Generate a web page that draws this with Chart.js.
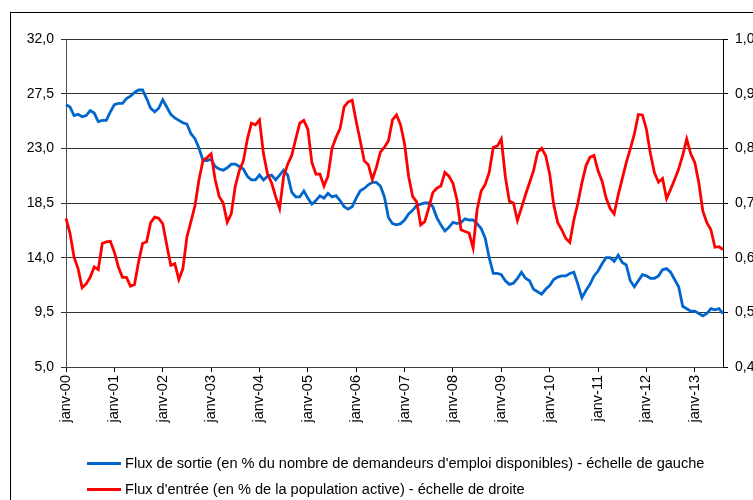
<!DOCTYPE html>
<html>
<head>
<meta charset="utf-8">
<script src="https://cdn.jsdelivr.net/npm/chart.js@4.4.1/dist/chart.umd.min.js"></script>
<style>
  body { margin: 0; width: 753px; height: 500px; overflow: hidden; background: #fff; position: relative; }
  #frame { position: absolute; left: 10px; top: 12px; width: 800px; height: 600px; border: 1px solid #000; }
  #c { position: absolute; left: 0; top: 0; }
  .leg { position: absolute; left: 87px; height: 18px; }
  .leg span.swatch { position: absolute; left: 0; top: 8px; width: 34px; height: 3px; }
  .leg span.txt { position: absolute; left: 38px; top: 0; line-height: 18px; white-space: nowrap; color: #000;
    font: 15.5px "Liberation Sans", Arial, sans-serif; transform: scaleX(0.94); transform-origin: left center; }
</style>
</head>
<body>
<div id="frame"></div>
<canvas id="c" width="800" height="500"></canvas>
<div class="leg" style="top:454px"><span class="swatch" style="background:#0066CC"></span><span class="txt" id="l1"></span></div>
<div class="leg" style="top:480px"><span class="swatch" style="background:#FF0000"></span><span class="txt" id="l2"></span></div>
<script>
// mois et années de l'axe des abscisses
const mois = ['janv', 'févr', 'mars', 'avr', 'mai', 'juin', 'juil', 'août', 'sept', 'oct', 'nov', 'déc'];
const annees = ['00', '01', '02', '03', '04', '05', '06', '07', '08', '09', '10', '11', '12', '13'];
const nbMois = 164; // janv-00 -> août-13

const labelSortie = "Flux de sortie (en % du nombre de demandeurs d'emploi disponibles) - échelle de gauche";
const labelEntree = "Flux d'entrée (en % de la population active) - échelle de droite";

// Flux de sortie (échelle de gauche)
const sortie = [
  26.6, 26.4, 25.7, 25.8, 25.6, 25.7, 26.1, 25.9, 25.2, 25.3,
  25.3, 26.0, 26.6, 26.7, 26.7, 27.1, 27.3, 27.6, 27.8, 27.8,
  27.1, 26.3, 26.0, 26.3, 27.0, 26.4, 25.8, 25.5, 25.3, 25.1,
  25.0, 24.2, 23.8, 23.0, 22.0, 22.0, 22.1, 21.5, 21.3, 21.2,
  21.4, 21.7, 21.7, 21.5, 21.3, 20.7, 20.4, 20.4, 20.8, 20.4,
  20.7, 20.8, 20.4, 20.8, 21.2, 20.8, 19.4, 19.0, 19.0, 19.5,
  18.9, 18.4, 18.7, 19.1, 18.9, 19.3, 19.0, 19.1, 18.7, 18.2,
  18.0, 18.2, 18.9, 19.5, 19.7, 20.0, 20.2, 20.2, 19.9, 19.0,
  17.3, 16.8, 16.7, 16.8, 17.1, 17.6, 17.9, 18.3, 18.4, 18.5,
  18.5, 18.2, 17.3, 16.7, 16.2, 16.5, 16.9, 16.8, 16.9, 17.2,
  17.1, 17.1, 16.8, 16.4, 15.6, 14.0, 12.7, 12.7, 12.6, 12.1,
  11.8, 11.9, 12.3, 12.8, 12.3, 12.1, 11.4, 11.2, 11.0, 11.4,
  11.7, 12.2, 12.4, 12.5, 12.5, 12.7, 12.8, 11.8, 10.7, 11.3,
  11.8, 12.5, 12.9, 13.5, 14.0, 14.0, 13.7, 14.2, 13.6, 13.4,
  12.1, 11.6, 12.1, 12.6, 12.5, 12.3, 12.3, 12.5, 13.0, 13.1,
  12.8, 12.2, 11.6, 10.0, 9.8, 9.6, 9.6, 9.4, 9.2, 9.4,
  9.8, 9.7, 9.8, 9.4
];

// Flux d'entrée (échelle de droite)
const entree = [
  0.672, 0.644, 0.601, 0.580, 0.545, 0.552, 0.564, 0.583, 0.578, 0.626,
  0.629, 0.630, 0.610, 0.583, 0.564, 0.564, 0.548, 0.551, 0.592, 0.626,
  0.629, 0.664, 0.674, 0.672, 0.662, 0.623, 0.586, 0.589, 0.560, 0.580,
  0.638, 0.666, 0.695, 0.743, 0.778, 0.783, 0.790, 0.743, 0.712, 0.700,
  0.665, 0.680, 0.731, 0.759, 0.777, 0.817, 0.846, 0.843, 0.852, 0.790,
  0.753, 0.737, 0.712, 0.690, 0.749, 0.771, 0.787, 0.817, 0.846, 0.851,
  0.835, 0.774, 0.753, 0.753, 0.731, 0.749, 0.800, 0.820, 0.836, 0.876,
  0.885, 0.888, 0.849, 0.814, 0.777, 0.770, 0.743, 0.765, 0.793, 0.802,
  0.814, 0.852, 0.861, 0.843, 0.808, 0.749, 0.712, 0.702, 0.660, 0.666,
  0.691, 0.719, 0.727, 0.731, 0.756, 0.749, 0.736, 0.706, 0.651, 0.648,
  0.645, 0.618, 0.688, 0.722, 0.734, 0.756, 0.802, 0.804, 0.817, 0.748,
  0.703, 0.700, 0.668, 0.691, 0.715, 0.737, 0.759, 0.793, 0.800, 0.787,
  0.753, 0.697, 0.664, 0.651, 0.635, 0.628, 0.669, 0.700, 0.737, 0.768,
  0.784, 0.787, 0.759, 0.740, 0.709, 0.690, 0.680, 0.715, 0.744, 0.774,
  0.799, 0.826, 0.862, 0.861, 0.835, 0.790, 0.755, 0.738, 0.745, 0.708,
  0.725, 0.743, 0.762, 0.787, 0.817, 0.790, 0.774, 0.737, 0.685, 0.664,
  0.651, 0.619, 0.620, 0.615
];

// Graduations
const yGauche = { min: 5, max: 32, pas: 4.5 };
const yDroite = { min: 0.4, max: 1.0, pas: 0.1 };

const labels = [];
for (let i = 0; i < nbMois; i++) {
  labels.push(mois[i % 12] + '-' + annees[Math.floor(i / 12)]);
}

document.getElementById('l1').textContent = labelSortie;
document.getElementById('l2').textContent = labelEntree;

const police = { family: '"Liberation Sans", Arial, sans-serif', size: 14 };
const virgule = (v) => v.toFixed(1).replace('.', ',');

new Chart(document.getElementById('c'), {
  type: 'line',
  data: {
    labels: labels,
    datasets: [
      {
        label: labelSortie,
        data: sortie,
        yAxisID: 'y',
        borderColor: '#0066CC',
        borderWidth: 2.8,
        pointRadius: 0,
        tension: 0,
        order: 1
      },
      {
        label: labelEntree,
        data: entree,
        yAxisID: 'y1',
        borderColor: '#FF0000',
        borderWidth: 2.8,
        pointRadius: 0,
        tension: 0,
        order: 0
      }
    ]
  },
  options: {
    responsive: false,
    animation: false,
    layout: { padding: { top: 39, left: 0, right: 0, bottom: 0 } },
    plugins: { legend: { display: false }, tooltip: { enabled: false } },
    scales: {
      x: {
        offset: false,
        grid: { display: true, drawOnChartArea: false, drawTicks: true, tickLength: 5, color: '#000' },
        border: { display: true, color: '#404040' },
        ticks: {
          autoSkip: false,
          maxRotation: 90,
          minRotation: 90,
          padding: 3,
          color: '#000',
          font: { family: '"Liberation Sans", Arial, sans-serif', size: 14.5 },
          callback: function (val, idx) { return idx % 12 === 0 ? this.getLabelForValue(val) : null; }
        },
        afterFit: (s) => { s.height = 133; }
      },
      y: {
        position: 'left',
        min: yGauche.min,
        max: yGauche.max,
        grid: { color: '#303030', tickLength: 5 },
        border: { display: true, color: '#505050' },
        ticks: { stepSize: yGauche.pas, padding: 7, color: '#000', font: police, callback: (v) => virgule(v) },
        afterFit: (s) => { s.width = 66; }
      },
      y1: {
        position: 'right',
        min: yDroite.min,
        max: yDroite.max,
        grid: { drawOnChartArea: false, tickLength: 5, color: '#000' },
        border: { display: true, color: '#000' },
        ticks: { stepSize: yDroite.pas, padding: 7, color: '#000', font: police, callback: (v) => virgule(v) },
        afterFit: (s) => { s.width = 77; }
      }
    }
  }
});
</script>
</body>
</html>
